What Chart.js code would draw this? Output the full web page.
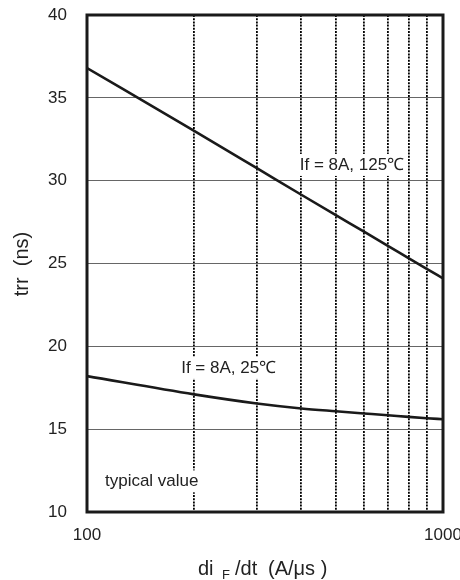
<!DOCTYPE html>
<html>
<head>
<meta charset="utf-8">
<script src="https://cdn.jsdelivr.net/npm/chart.js@4.4.1/dist/chart.umd.min.js"></script>
<style>
  html, body { margin: 0; padding: 0; background: #fff; }
</style>
</head>
<body>
<canvas id="chart" width="460" height="580"></canvas>
<script>
// diF/dt values (A/us) and trr readings (ns)
const diFdt = [100, 200, 300, 400, 500, 600, 700, 800, 900, 1000];
const trr125 = [36.8, 33.0, 30.75, 29.15, 27.92, 26.92, 26.07, 25.33, 24.68, 24.1];
const trr25 = [18.2, 17.1, 16.55, 16.25, 16.08, 15.95, 15.84, 15.74, 15.66, 15.6];

// axis ticks
const xTicks = [100, 200, 300, 400, 500, 600, 700, 800, 900, 1000];
const xTickLabels = ["100", "", "", "", "", "", "", "", "", "1000"];
const yTicks = [10, 15, 20, 25, 30, 35, 40];

// text notes inside the plot (data coordinates)
const notes = [
  { text: "If = 8A, 125\u2103", x: 555, y: 30.95 },
  { text: "If = 8A, 25\u2103", x: 250, y: 18.7 },
  { text: "typical value", x: 152, y: 11.85 },
];

const FONT = "'Liberation Sans', Arial, sans-serif";

const notesPlugin = {
  id: "notes",
  afterDatasetsDraw(chart) {
    const { ctx, scales } = chart;
    ctx.save();
    ctx.font = "17px " + FONT;
    ctx.textBaseline = "middle";
    ctx.textAlign = "center";
    notes.forEach((n) => {
      const px = scales.x.getPixelForValue(n.x);
      const py = scales.y.getPixelForValue(n.y);
      const w = ctx.measureText(n.text).width;
      ctx.fillStyle = "#fff";
      ctx.fillRect(px - w / 2 - 3, py - 11, w + 6, 22);
      ctx.fillStyle = "#222";
      ctx.fillText(n.text, px, py);
    });
    ctx.restore();
  },
  afterDraw(chart) {
    const { ctx, chartArea: a } = chart;
    ctx.save();
    // frame
    ctx.strokeStyle = "#1a1a1a";
    ctx.lineWidth = 3;
    ctx.strokeRect(a.left, a.top, a.right - a.left, a.bottom - a.top);

    // y title
    ctx.fillStyle = "#222";
    ctx.font = "20px " + FONT;
    ctx.textAlign = "center";
    ctx.textBaseline = "middle";
    ctx.translate(22, 264);
    ctx.rotate(-Math.PI / 2);
    ctx.fillText("trr  (ns)", 0, 0);
    ctx.restore();

    // x title with subscript F
    ctx.save();
    ctx.fillStyle = "#222";
    ctx.textBaseline = "alphabetic";
    ctx.textAlign = "left";
    ctx.font = "20px " + FONT;
    ctx.fillText("di", 198, 575);
    ctx.font = "13px " + FONT;
    ctx.fillText("F", 222, 579);
    ctx.font = "20px " + FONT;
    ctx.fillText("/dt", 235, 575);
    ctx.fillText("(A/\u03bcs )", 268, 575);
    ctx.restore();
  },
};

const noPad = (s) => {
  s.paddingTop = 0;
  s.paddingBottom = 0;
  s.paddingLeft = 0;
  s.paddingRight = 0;
};

const ctx = document.getElementById("chart").getContext("2d");
new Chart(ctx, {
  type: "line",
  data: {
    labels: diFdt,
    datasets: [
      {
        label: "If = 8A, 125C",
        data: diFdt.map((v, i) => ({ x: v, y: trr125[i] })),
        borderColor: "#1a1a1a",
        borderWidth: 2.6,
        pointRadius: 0,
        cubicInterpolationMode: "monotone",
      },
      {
        label: "If = 8A, 25C",
        data: diFdt.map((v, i) => ({ x: v, y: trr25[i] })),
        borderColor: "#1a1a1a",
        borderWidth: 2.6,
        pointRadius: 0,
        cubicInterpolationMode: "monotone",
      },
    ],
  },
  options: {
    responsive: false,
    animation: false,
    devicePixelRatio: 1,
    layout: { padding: { top: 15, right: 17, left: 0, bottom: 0 } },
    plugins: {
      legend: { display: false },
      tooltip: { enabled: false },
    },
    scales: {
      x: {
        type: "logarithmic",
        min: 100,
        max: 1000,
        afterBuildTicks: (s) => {
          s.ticks = xTicks.map((v) => ({ value: v }));
        },
        afterFit: (s) => {
          s.height = 68;
          noPad(s);
        },
        ticks: {
          autoSkip: false,
          maxRotation: 0,
          padding: 13,
          color: "#222",
          font: { family: FONT, size: 17 },
          callback: (v) => xTickLabels[xTicks.indexOf(v)],
        },
        grid: {
          drawTicks: false,
          lineWidth: 1.8,
          color: (c) =>
            c.tick && (c.tick.value === 100 || c.tick.value === 1000) ? "rgba(0,0,0,0)" : "#000",
        },
        border: { display: false, dash: [2, 1.2] },
      },
      y: {
        min: 10,
        max: 40,
        afterBuildTicks: (s) => {
          s.ticks = yTicks.map((v) => ({ value: v }));
        },
        afterFit: (s) => {
          s.width = 87;
          noPad(s);
        },
        ticks: {
          padding: 20,
          color: "#222",
          font: { family: FONT, size: 17 },
        },
        grid: {
          drawTicks: false,
          lineWidth: 1,
          color: "#666",
        },
        border: { display: false },
      },
    },
  },
  plugins: [notesPlugin],
});
</script>
</body>
</html>
